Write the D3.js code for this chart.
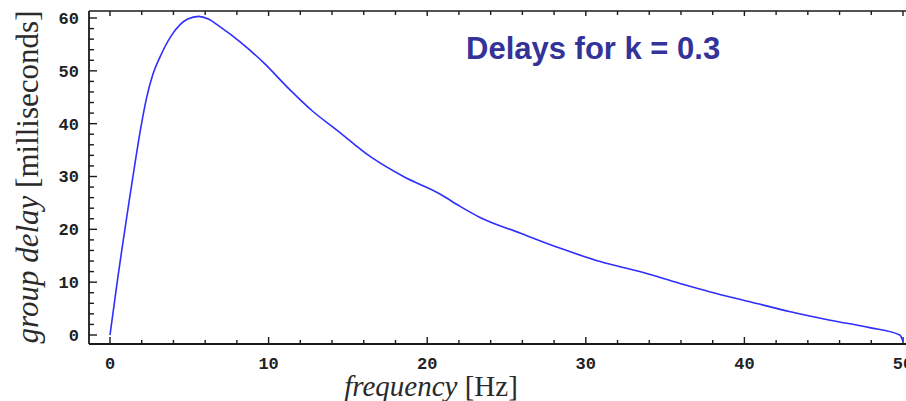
<!DOCTYPE html>
<html>
<head>
<meta charset="utf-8">
<script src="https://cdn.jsdelivr.net/npm/d3@7"></script>
<style>
  html, body { margin: 0; padding: 0; background: #ffffff; }
  svg { display: block; }
</style>
</head>
<body>
<svg id="chart" width="906" height="401"></svg>
<script>
// ---- data ----
const frequency = [0, 0.25, 0.5, 0.75, 1.0, 1.25, 1.5, 1.75, 2.0, 2.3, 2.7, 3.15, 3.9, 4.9, 5.6, 6.2, 6.9, 8.2, 9.7, 11.35, 12.8, 14.3, 16.4, 18.5, 20.8, 22.1, 23.3, 25.85, 28.4, 30.9, 33.4, 35.9, 37.8, 40.35, 42.9, 45.4, 47.9, 49.8, 50];
const delayMs   = [0, 5.5, 11.0, 16.2, 21.2, 26.2, 31.0, 35.8, 40.2, 44.8, 49.3, 52.6, 56.8, 59.8, 60.3, 59.8, 58.4, 55.5, 51.5, 46.4, 42.3, 38.8, 33.8, 30.0, 26.7, 24.3, 22.3, 19.3, 16.4, 13.9, 12.0, 9.8, 8.2, 6.3, 4.4, 2.8, 1.4, 0, -1.2];
const xTickLabels = [0, 10, 20, 30, 40, 50];
const yTickLabels = [0, 10, 20, 30, 40, 50, 60];
const xMinorTicks = d3.range(0, 51, 2);
const yMinorTicks = d3.range(0, 61, 2);
const titleText = "Delays for k = 0.3";
const xLabelItalic = "frequency", xLabelRest = " [Hz]";
const yLabelItalic = "group delay", yLabelRest = " [milliseconds]";

// ---- layout ----
const svg = d3.select("#chart");
const frame = { left: 89, right: 930, top: 11, bottom: 344 };
const x = d3.scaleLinear().domain([0, 50]).range([110, 903]);
const y = d3.scaleLinear().domain([0, 60]).range([335, 18]);
const axisColor = "#1a1a1a";

// frame lines
const g = svg.append("g");
g.append("line").attr("x1", frame.left).attr("x2", frame.right).attr("y1", frame.top).attr("y2", frame.top)
  .attr("stroke", axisColor).attr("stroke-width", 1.6);
g.append("line").attr("x1", frame.left).attr("x2", frame.right).attr("y1", frame.bottom).attr("y2", frame.bottom)
  .attr("stroke", axisColor).attr("stroke-width", 1.8);
g.append("line").attr("x1", frame.left).attr("x2", frame.left).attr("y1", frame.top).attr("y2", frame.bottom)
  .attr("stroke", axisColor).attr("stroke-width", 1.8);

const isMajor = v => v % 10 === 0;

// bottom ticks (inward, upward)
g.selectAll(".xb").data(xMinorTicks).join("line")
  .attr("x1", d => x(d)).attr("x2", d => x(d))
  .attr("y1", frame.bottom).attr("y2", d => frame.bottom - (isMajor(d) ? 7 : 4))
  .attr("stroke", axisColor).attr("stroke-width", 1.4);
// top ticks (inward, downward)
g.selectAll(".xt").data(xMinorTicks).join("line")
  .attr("x1", d => x(d)).attr("x2", d => x(d))
  .attr("y1", frame.top).attr("y2", d => frame.top + (isMajor(d) ? 5 : 4))
  .attr("stroke", axisColor).attr("stroke-width", 1.4);
// left ticks (inward, rightward)
g.selectAll(".yl").data(yMinorTicks).join("line")
  .attr("y1", d => y(d)).attr("y2", d => y(d))
  .attr("x1", frame.left).attr("x2", d => frame.left + (isMajor(d) ? 8 : 5))
  .attr("stroke", axisColor).attr("stroke-width", 1.4);

// tick labels
const tickFont = "'Liberation Mono', 'Courier New', monospace";
g.selectAll(".xl").data(xTickLabels).join("text")
  .attr("x", d => x(d)).attr("y", 369)
  .attr("text-anchor", "middle")
  .attr("font-family", tickFont).attr("font-weight", "bold").attr("font-size", 17)
  .attr("fill", "#222").text(d => d);
g.selectAll(".ylab").data(yTickLabels).join("text")
  .attr("x", 79).attr("y", d => y(d)).attr("dy", "0.35em")
  .attr("text-anchor", "end")
  .attr("font-family", tickFont).attr("font-weight", "bold").attr("font-size", 17)
  .attr("fill", "#222").text(d => d);

// curve
const line = d3.line().x((d, i) => x(frequency[i])).y((d, i) => y(d)).curve(d3.curveMonotoneX);
svg.append("path").datum(delayMs)
  .attr("d", line).attr("fill", "none")
  .attr("stroke", "#2e2eff").attr("stroke-width", 1.6);

// axis labels
const labelFont = "'Liberation Serif', 'Times New Roman', serif";
const xl = svg.append("text").attr("x", 431).attr("y", 396).attr("text-anchor", "middle")
  .attr("font-family", labelFont).attr("font-size", 29).attr("fill", "#2a2a2a");
xl.append("tspan").attr("font-style", "italic").text(xLabelItalic);
xl.append("tspan").text(xLabelRest);

const yl = svg.append("text").attr("transform", "translate(38,177) rotate(-90)").attr("text-anchor", "middle")
  .attr("font-family", labelFont).attr("font-size", 31).attr("fill", "#2a2a2a");
yl.append("tspan").attr("font-style", "italic").text(yLabelItalic);
yl.append("tspan").text(yLabelRest);

// title
svg.append("text").attr("x", 466).attr("y", 59)
  .attr("font-family", "'Liberation Sans', Arial, sans-serif").attr("font-weight", "bold")
  .attr("font-size", 31).attr("fill", "#333399").text(titleText);
</script>
</body>
</html>
